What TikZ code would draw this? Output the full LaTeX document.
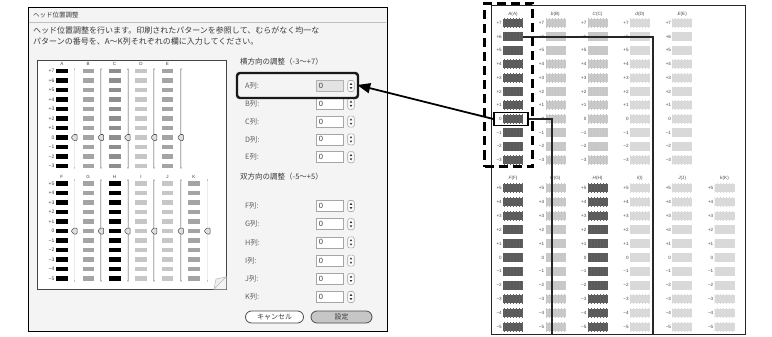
\documentclass[tikz,border=0pt]{standalone}
\usepackage{fontspec}
\newfontfamily\jp{Noto Sans CJK JP}
\newfontfamily\lat{Liberation Sans}
\usetikzlibrary{arrows.meta,patterns}
\definecolor{dlgbg}{HTML}{F4F4F4}
\definecolor{pgB}{HTML}{A4A4A4}
\definecolor{pgC}{HTML}{8E8E8E}
\definecolor{pgD}{HTML}{C6C6C6}
\definecolor{rpDark}{HTML}{5A5A5A}
\definecolor{rpB}{HTML}{C9C9C9}
\definecolor{rpL}{HTML}{D9D9D9}
\definecolor{txt}{HTML}{3A3A3A}
\begin{document}
\begin{tikzpicture}[x=1pt,y=-1pt,
  dlgtitle/.style={font=\jp\fontsize{6.5}{7}\selectfont, anchor=west, inner sep=0pt, text=txt},
  dlgtxt/.style={font=\jp\fontsize{8}{9}\selectfont, anchor=west, inner sep=0pt, text=txt},
  sect/.style={font=\jp\fontsize{7.5}{8}\selectfont, anchor=west, inner sep=0pt, text=txt},
  flabel/.style={font=\jp\fontsize{7.3}{8}\selectfont, anchor=west, inner sep=0pt, text=txt!80},
  field/.style={draw=gray!70, fill=white, line width=0.6pt, anchor=west, text width=22pt, align=left,
     inner xsep=2.5pt, inner ysep=0pt, minimum height=11pt, font=\lat\fontsize{7.5}{8}\selectfont, text=txt},
  spin/.style={draw=gray!70, fill=white, line width=0.6pt, rounded corners=2pt, minimum width=6.5pt,
     minimum height=11pt, inner sep=0pt},
  tri/.style={fill=gray!40!black},
  phead/.style={font=\lat\fontsize{4.5}{5}\selectfont, inner sep=0pt, text=txt},
  plab/.style={font=\lat\fontsize{5}{5}\selectfont, inner sep=0pt, anchor=east, text=txt},
  pbar/.style={minimum width=11.5pt, minimum height=4.5pt, inner sep=0pt, anchor=west},
  track/.style={draw=gray!55, line width=1.8pt, line cap=round},
  trackin/.style={draw=gray!15, line width=0.6pt},
  knob/.style={draw=gray!60!black, fill=gray!25, line width=0.5pt, rounded corners=0.8pt},
  btn/.style={draw=gray!60!black, line width=0.8pt, rounded corners=6pt, minimum height=12pt,
     inner sep=0pt, font=\jp\fontsize{7}{8}\selectfont, text=txt},
  rhead/.style={font=\lat\fontsize{4.6}{5}\selectfont, inner sep=0pt, text=gray!55!black},
  rlab/.style={font=\lat\fontsize{4.6}{5}\selectfont, inner sep=0pt, anchor=east, text=gray!55!black},
  rbar/.style={minimum width=20pt, minimum height=8.5pt, inner sep=0pt, anchor=west},
  lead/.style={draw=black!85, line width=2pt},
]
\useasboundingbox (0,0) rectangle (772,337);
\fill[white] (0,0) rectangle (772,337);

% ---------------- dialog ----------------
\node[draw=black, line width=1.3pt, fill=dlgbg, minimum width=359pt, minimum height=324pt,
      anchor=north west, inner sep=0pt] (dlg) at (28,7) {};
\draw[gray!50, line width=0.6pt] (28.6,22) -- (386.4,22);
\node[dlgtitle] (ttl) at (33,15) {ヘッド位置調整};
\node[dlgtxt] (d1) at (33,30) {ヘッド位置調整を行います。印刷されたパターンを参照して、むらがなく均一な};
\node[dlgtxt] (d2) at (33,41) {パターンの番号を、A〜K列それぞれの欄に入力してください。};

% pattern panel
\node[draw=gray!55!black, line width=0.8pt, fill=white, minimum width=189pt, minimum height=229pt,
      anchor=north west, inner sep=0pt] (panel) at (37,60) {};
\fill[dlgbg] (214,289.4) -- (226.4,289.4) -- (226.4,277) -- cycle;
\filldraw[fill=gray!12, draw=gray!55, line width=0.5pt] (214,289) -- (226,277) -- (216,279) -- cycle;

% top group rows labels
\foreach \lab [count=\k from 0] in {+7,+6,+5,+4,+3,+2,+1,0,−1,−2,−3}{
  \node[plab] (plt\k) at (54.5,{71+9.5*\k}) {\lab};
}
\foreach \j/\L/\c in {0/A/black,1/B/pgB,2/C/pgC,3/D/pgD,4/E/pgB}{
  \node[phead] (ph\L) at ({61.8+26.4*\j},64) {\L};
  \foreach \k in {0,...,10}{
    \node[pbar, fill=\c] (pb\L\k) at ({56+26.4*\j},{71+9.5*\k}) {};
  }
  \draw[track] ({74.5+26.6*\j},69) -- ({74.5+26.6*\j},168);
  \draw[trackin] ({74.5+26.6*\j},70) -- ({74.5+26.6*\j},167);
  \draw[knob, shift={({74.5+26.6*\j},137.5)}] (2.5,-3) -- (-0.8,-3) -- (-3.3,0) -- (-0.8,3) -- (2.5,3) -- cycle;
}
% bottom group
\foreach \lab [count=\k from 0] in {+5,+4,+3,+2,+1,0,−1,−2,−3,−4,−5}{
  \node[plab] (plb\k) at (54.5,{183.5+9.5*\k}) {\lab};
}
\foreach \j/\L/\c in {0/F/black,1/G/pgB,2/H/black,3/I/pgD,4/J/pgD,5/K/pgB}{
  \node[phead] (ph\L) at ({61.8+26.4*\j},177) {\L};
  \foreach \k in {0,...,10}{
    \node[pbar, fill=\c] (pb\L\k) at ({56+26.4*\j},{183.5+9.5*\k}) {};
  }
  \draw[track] ({74.5+26.6*\j},180) -- ({74.5+26.6*\j},281);
  \draw[trackin] ({74.5+26.6*\j},181) -- ({74.5+26.6*\j},280);
  \draw[knob, shift={({74.5+26.6*\j},231)}] (2.5,-3) -- (-0.8,-3) -- (-3.3,0) -- (-0.8,3) -- (2.5,3) -- cycle;
}

% right side controls
\node[sect] (s1) at (240,62) {横方向の調整（-3〜+7）};
\foreach \L [count=\k from 0] in {A,B,C,D,E}{
  \node[flabel] (fl\L) at (245,{86+17.8*\k}) {\L{}列:};
  \node[field] (ff\L) at (316,{86+17.8*\k}) {0};
  \node[spin] (sp\L) at (351,{86+17.8*\k}) {};
  \fill[tri] ({351-1.3},{86+17.8*\k-1.2}) -- ({351+1.3},{86+17.8*\k-1.2}) -- (351,{86+17.8*\k-3.3}) -- cycle;
  \fill[tri] ({351-1.3},{86+17.8*\k+1.2}) -- ({351+1.3},{86+17.8*\k+1.2}) -- (351,{86+17.8*\k+3.3}) -- cycle;
}
\node[field, fill=gray!22, draw=gray!60] (ffA2) at (316,86) {0};
\node[draw=black!90, line width=2.4pt, rounded corners=3pt, minimum width=121pt, minimum height=25pt,
      inner sep=0pt] (hlbox) at (297.5,85.5) {};

\node[sect] (s2) at (240,177) {双方向の調整（-5〜+5）};
\foreach \L [count=\k from 0] in {F,G,H,I,J,K}{
  \node[flabel] (fl\L) at (245,{206+18.2*\k}) {\L{}列:};
  \node[field] (ff\L) at (316,{206+18.2*\k}) {0};
  \node[spin] (sp\L) at (351,{206+18.2*\k}) {};
  \fill[tri] ({351-1.3},{206+18.2*\k-1.2}) -- ({351+1.3},{206+18.2*\k-1.2}) -- (351,{206+18.2*\k-3.3}) -- cycle;
  \fill[tri] ({351-1.3},{206+18.2*\k+1.2}) -- ({351+1.3},{206+18.2*\k+1.2}) -- (351,{206+18.2*\k+3.3}) -- cycle;
}
\node[btn, fill=white, minimum width=58pt] (cancel) at (274.5,317) {キャンセル};
\node[btn, fill=gray!45, minimum width=61pt] (okbtn) at (341.5,317) {設定};

% ---------------- printed page ----------------
\node[draw=black!85, line width=0.9pt, minimum width=254pt, minimum height=329pt,
      anchor=north west, inner sep=0pt] (page) at (491,5) {};
\foreach \j/\L/\H/\c/\s in {0/A/{\textit{A}(A)}/rpDark/gray!75!black,1/B/{\textit{b}(B)}/rpB/gray!45,2/C/{\textit{C}(C)}/rpB/gray!45,3/D/{\textit{d}(D)}/rpL/gray!30,4/E/{\textit{E}(E)}/rpL/gray!30}{
  \node[rhead] (rh\L) at ({513+42.3*\j},14) {\H};
  \foreach \lab [count=\k from 0] in {+7,+6,+5,+4,+3,+2,+1,0,−1,−2,−3}{
    \node[rlab] (rl\L\k) at ({502+42.3*\j},{23+13.7*\k}) {\lab};
    \node[rbar, fill=\c, postaction={pattern=vertical lines, pattern color=\s}] (rb\L\k) at ({503+42.3*\j},{23+13.7*\k}) {};
  }
}
\foreach \j/\L/\H/\c/\s in {0/F/{\textit{F}(F)}/rpDark/gray!75!black,1/G/{\textit{G}(G)}/rpB/gray!45,2/H/{\textit{H}(H)}/rpDark/gray!75!black,3/I/{\textit{I}(I)}/rpL/gray!30,4/J/{\textit{J}(J)}/rpL/gray!30,5/K/{\textit{k}(K)}/rpL/gray!30}{
  \node[rhead] (rh\L) at ({513+42.3*\j},178) {\H};
  \foreach \lab [count=\k from 0] in {+5,+4,+3,+2,+1,0,−1,−2,−3,−4,−5}{
    \node[rlab] (rl\L\k) at ({502+42.3*\j},{188+13.9*\k}) {\lab};
    \node[rbar, fill=\c, postaction={pattern=vertical lines, pattern color=\s}] (rb\L\k) at ({503+42.3*\j},{188+13.9*\k}) {};
  }
}
\node[draw=black, line width=1.4pt, minimum width=34pt, minimum height=12.5pt, inner sep=0pt] (zbox) at (511,119) {};
\coordinate (e1) at (653,334);
\coordinate (e2) at (552,334);
\draw[lead] (rbA1.east) -| (e1);
\draw[lead] (zbox.east) -| (e2);
\node[draw=black, line width=3.6pt, dash pattern=on 9pt off 5pt, minimum width=48pt, minimum height=163pt,
      inner sep=0pt] (dbox) at (508.5,85) {};
\draw[black, line width=1.8pt, -{Triangle[length=13pt,width=10pt]}, shorten >=-2pt] (zbox.west) -- (hlbox.east);
\end{tikzpicture}
\end{document}
